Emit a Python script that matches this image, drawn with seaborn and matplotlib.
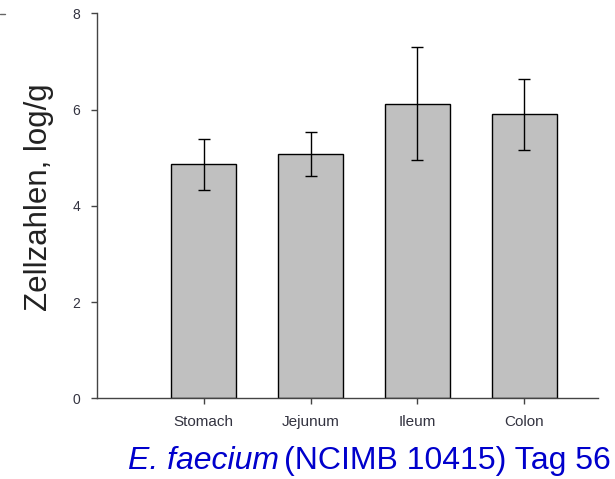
import matplotlib
matplotlib.use("Agg")
import matplotlib.pyplot as plt
import seaborn as sns
import pandas as pd
from matplotlib.lines import Line2D

categories = ["Stomach", "Jejunum", "Ileum", "Colon"]
means = [4.86, 5.07, 6.12, 5.90]
sds = [0.53, 0.46, 1.17, 0.74]
yticks = [0, 2, 4, 6, 8]

sns.set_style("white")
plt.rcParams["font.family"] = ["Liberation Sans", "DejaVu Sans"]

df = pd.DataFrame({"region": categories, "count": means, "sd": sds})

W, H = 615, 479
fig = plt.figure(figsize=(W / 100, H / 100), dpi=100)
ax = fig.add_axes([97 / W, 1 - 398.3 / H, (598 - 97) / W, (398.3 - 13.3) / H])

sns.barplot(data=df, x="region", y="count", order=categories, color="#C0C0C0",
            saturation=1, edgecolor="black", linewidth=1.0, width=0.61, ax=ax)
ax.errorbar(range(len(categories)), df["count"], yerr=df["sd"], fmt="none",
            ecolor="black", elinewidth=1.0, capsize=4.3, capthick=1.0)

ax.set_xlim(-1, 3.69)
ax.set_ylim(0, 8)
ax.set_yticks(yticks)
ax.set_yticklabels([str(t) for t in yticks])
ax.set_xlabel("")
ax.set_ylabel("")
fig.text(39.5 / W, 1 - 197.5 / H, "Zellzahlen, log/g", fontsize=22.5,
         color="#222222", rotation=90, ha="center", va="center")

for s in ["top", "right"]:
    ax.spines[s].set_visible(False)
for s in ["left", "bottom"]:
    ax.spines[s].set_color("#444444")
    ax.spines[s].set_linewidth(1.0)

ax.tick_params(axis="both", direction="out", length=4, width=1, color="#444444",
               labelcolor="#333340")
ax.tick_params(axis="y", labelsize=10, left=True, pad=8)
ax.tick_params(axis="x", labelsize=11, bottom=True, pad=8)

# small stray dash at top-left
fig.add_artist(Line2D([0, 5 / W], [1 - 14 / H, 1 - 14 / H], color="#666666", lw=1))

# title at bottom: italic species name followed by normal text
blue = "#0000CC"
t1 = fig.text(128 / W, 1 - 461 / H, "E. faecium", fontsize=23, color=blue,
              style="italic", va="center", ha="left")
fig.canvas.draw()
bb = t1.get_window_extent(renderer=fig.canvas.get_renderer())
x2 = bb.x1 / W + 0.008
fig.text(x2, 1 - 461 / H, "(NCIMB 10415) Tag 56", fontsize=23, color=blue,
         va="center", ha="left")

fig.savefig("out.png", dpi=100)
